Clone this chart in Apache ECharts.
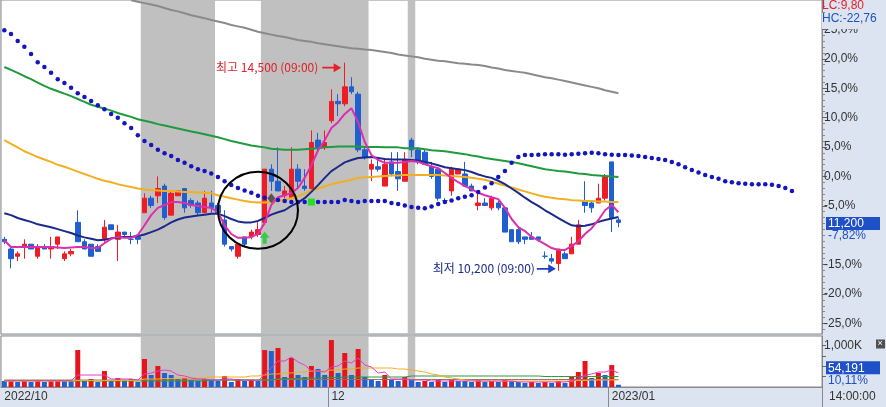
<!DOCTYPE html>
<html><head><meta charset="utf-8">
<script src="https://cdn.jsdelivr.net/npm/echarts@6/dist/echarts.min.js"></script>
<style>html,body{margin:0;padding:0;background:#dbe4f0}#c{width:886px;height:407px}</style>
</head><body><div id="c"></div>
<script>
// ---- data ----
const BASE = 12150; // 0.0% reference price
// [open, close, low, high]
const candles = [
[10850,10800,10750,10900],[10650,10450,10250,10700],[10500,10550,10400,10600],[10700,10750,10450,10850],[10750,10650,10650,10750],
[10500,10700,10450,10750],[10700,10650,10650,10750],[10650,10700,10450,10900],[10750,10900,10650,10900],[10450,10550,10400,10600],
[10550,10600,10500,10650],[11200,10800,10800,11450],[10800,10650,10650,10850],[10750,10500,10500,10750],[10700,10600,10600,10750],
[10850,11100,10800,11250],[11150,11050,11050,11150],[10850,11000,10400,11150],[11000,10950,10900,11000],[10850,10850,10750,11000],
[10900,10850,10750,10900],[11400,11700,11400,11800],[11700,11550,11500,11750],[11750,11900,11600,12150],[11950,11300,11250,12000],
[11350,11800,11350,11850],[11750,11850,11750,11850],[11900,11500,11400,11900],[11650,11550,11500,11700],[11600,11400,11350,11650],
[11400,11700,11400,11850],[11600,11500,11400,11850],[11550,11400,11350,11600],[11250,10750,10700,11450],[10700,10650,10600,10700],
[10500,10750,10450,10750],[10900,10750,10700,10900],[10900,11000,10850,11050],[10950,11050,10900,11200],[11200,12300,11150,12300],
[12300,12050,11850,12400],[12050,11850,11850,12750],[11750,11850,11700,11950],[11700,12300,11700,12750],[12300,12050,11900,12400],
[11950,11900,11850,12300],[11900,12850,11850,13100],[12900,12750,12650,13050],[12750,12850,12700,13100],[13300,13700,13250,13950],
[13700,13650,13400,13850],[13650,14000,13600,14500],[14000,13900,13850,14200],[13850,12700,12650,13900],[12700,12550,12500,12750],
[12300,12400,12050,12500],[12350,12300,12250,12500],[11950,12400,11950,12500],[12450,12200,12150,12650],[12250,12100,11850,12650],
[12050,12500,12050,12650],[12900,12700,12550,12950],[12700,12450,12400,12750],[12650,12400,12400,12700],[12350,12150,12100,12450],
[12300,11700,11650,12300],[11650,11650,11600,11700],[11850,12300,11750,12350],[12200,12300,12200,12300],[12200,11950,11950,12450],
[11950,11850,11850,12000],[11550,11600,11450,11850],[11600,11550,11550,11700],[11500,11700,11450,11750],[11600,11500,11450,11650],
[11500,11000,11000,11500],[11050,10800,10800,11050],[11050,10800,10750,11100],[10900,10850,10750,10900],[10900,10850,10850,11000],
[10900,10850,10800,10900],[10500,10500,10450,10600],[10450,10400,10350,10550],[10350,10650,10200,10650],[10550,10450,10450,10600],
[10550,10750,10550,10900],[10750,11150,10750,11250],[11650,11550,11400,12050],[11600,11500,11400,11650],[11600,11700,11600,12000],
[11700,12150,11650,12200],[12450,11300,11000,12450],[11250,11200,11100,11300]
];
const maGray = [null,null,null,null,null,null,null,null,null,null,null,null,null,null,null,null,null,null,null,
15790,15760,15730,15700,15670,15630,15590,15560,15520,15480,15450,15420,15380,15350,15320,15280,15250,15220,15180,15140,15110,
15080,15050,15030,15000,14970,14950,14930,14900,14880,14860,14840,14820,14800,14790,14770,14760,14740,14720,14700,14670,
14650,14630,14610,14580,14560,14540,14530,14510,14490,14480,14460,14450,14430,14400,14380,14350,14330,14310,14290,14260,
14230,14200,14180,14150,14120,14090,14060,14030,14000,13970,13930,13900,13870];
const maGreen = [14410,14350,14290,14220,14160,14090,14020,13960,13910,13860,13810,13750,13690,13630,13590,13550,13510,13460,13420,13380,
13330,13300,13270,13230,13200,13170,13140,13110,13080,13050,13020,12990,12960,12920,12880,12850,12820,12790,12770,12750,
12720,12710,12700,12700,12700,12710,12720,12730,12750,12760,12770,12770,12770,12770,12760,12760,12760,12750,12750,12750,
12730,12730,12730,12710,12690,12680,12670,12650,12630,12610,12580,12560,12530,12510,12490,12470,12450,12420,12390,12360,
12330,12300,12280,12260,12250,12230,12210,12200,12180,12170,12160,12150,12140];
const maOrange = [12900,12820,12750,12670,12610,12550,12500,12450,12390,12350,12300,12250,12200,12150,12100,12060,12030,11990,11960,11930,
11900,11880,11870,11860,11850,11850,11840,11830,11830,11820,11810,11800,11760,11730,11700,11670,11640,11620,11610,11610,
11620,11640,11670,11700,11740,11800,11860,11900,11940,11990,12020,12050,12080,12120,12130,12140,12150,12160,12170,12170,
12180,12180,12180,12180,12180,12180,12170,12160,12150,12140,12120,12100,12080,12040,12000,11960,11920,11880,11840,11800,
11760,11730,11710,11690,11680,11660,11650,11640,11640,11630,11630,11620,11620];
const maNavy = [11390,11350,11290,11250,11210,11160,11130,11100,11060,11020,10980,10930,10890,10860,10830,10840,10870,10890,10900,10900,
10920,10950,11000,11050,11120,11200,11260,11300,11320,11340,11360,11380,11380,11330,11270,11220,11200,11200,11230,11290,
11360,11410,11450,11540,11610,11700,11830,11970,12120,12260,12350,12440,12490,12530,12540,12550,12530,12510,12500,12500,
12500,12490,12480,12450,12420,12380,12340,12320,12300,12280,12240,12190,12150,12120,12060,11990,11900,11810,11710,11620,
11540,11450,11370,11290,11210,11140,11120,11130,11160,11210,11250,11280,11310];
const maMagenta = [10830,10690,10690,10690,10690,10690,10690,10690,10680,10670,10680,10690,10690,10670,10670,10770,10860,10900,10880,10880,
10940,11140,11350,11500,11560,11620,11620,11600,11560,11540,11520,11500,11410,11140,10960,10880,10880,10900,10960,11190,
11560,11720,11760,11810,11910,12120,12380,12690,12900,13150,13270,13440,13560,13270,12860,12590,12490,12430,12430,12430,
12450,12470,12450,12400,12360,12320,12220,12120,12030,11950,11890,11810,11760,11720,11680,11500,11270,11100,11020,10900,
10830,10750,10670,10630,10630,10710,10810,10960,11080,11250,11450,11560,11410];
// leading span (plotted 26 periods beyond the last candle)
const spanDots = [15170,15090,14950,14830,14680,14510,14410,14290,14160,14080,13980,13870,13790,13710,13620,13540,13440,13360,13250,13150,
13000,12880,12800,12700,12630,12570,12490,12430,12360,12300,12260,12210,12140,12050,11970,11910,11860,11810,11750,11710,
11680,11660,11640,11620,11620,11620,11620,11620,11620,11620,11620,11660,11640,11620,11640,11640,11640,11640,11600,11580,
11550,11520,11500,11490,11530,11580,11620,11650,11700,11730,11760,11830,11920,12010,12140,12260,12430,12550,12590,12590,
12600,12610,12610,12610,12600,12610,12620,12630,12640,12630,12610,12600,12590,12590,12580,12570,12550,12530,12510,12490,
12450,12400,12340,12280,12230,12180,12140,12100,12050,12030,12010,12000,11990,11990,11990,11980,11950,11910,11850];
const volumes = [145000,169000,121000,145000,121000,169000,121000,145000,169000,145000,
145000,895000,145000,194000,121000,387000,145000,218000,169000,194000,
121000,678000,290000,508000,339000,290000,194000,218000,169000,145000,
194000,169000,145000,266000,121000,194000,145000,169000,145000,895000,
871000,944000,242000,702000,290000,242000,508000,436000,290000,1137000,
339000,823000,290000,920000,242000,194000,145000,290000,169000,145000,
242000,169000,121000,145000,121000,194000,121000,169000,145000,145000,
121000,169000,121000,145000,121000,169000,145000,121000,97000,121000,
97000,121000,97000,145000,97000,242000,363000,629000,218000,339000,
290000,532000,54191];
const volMa5 = [157000,157000,157000,157000,157000,157000,157000,157000,157000,157000,
157000,290000,290000,290000,290000,290000,194000,194000,194000,194000,
169000,315000,339000,387000,411000,387000,290000,266000,218000,194000,
194000,169000,169000,194000,194000,169000,169000,169000,145000,315000,
460000,629000,629000,726000,605000,532000,387000,387000,363000,484000,
508000,629000,581000,702000,532000,484000,339000,363000,194000,194000,
194000,169000,169000,169000,145000,145000,145000,145000,145000,145000,
145000,145000,145000,145000,145000,145000,145000,121000,121000,121000,
121000,121000,121000,121000,121000,145000,194000,290000,315000,363000,
363000,411000,339000];
const volMa20 = [145000,145000,145000,145000,145000,145000,145000,145000,145000,145000,
145000,157000,157000,157000,157000,157000,157000,157000,157000,157000,
157000,194000,194000,194000,206000,206000,218000,218000,218000,218000,
218000,242000,242000,242000,242000,242000,242000,266000,266000,290000,
315000,315000,339000,339000,363000,363000,387000,387000,387000,411000,
411000,436000,436000,460000,460000,460000,460000,460000,460000,436000,
436000,411000,387000,363000,315000,290000,242000,218000,194000,169000,
157000,145000,145000,145000,145000,145000,145000,145000,145000,145000,
145000,145000,145000,145000,145000,145000,157000,157000,169000,169000,
169000,169000,169000];
const volMa60 = [145000,145000,145000,145000,145000,145000,145000,145000,145000,145000,
145000,145000,145000,145000,145000,145000,145000,145000,145000,145000,
145000,145000,145000,145000,145000,145000,145000,145000,145000,145000,
145000,169000,169000,169000,169000,169000,169000,169000,169000,169000,
169000,194000,194000,206000,206000,218000,218000,218000,230000,230000,
230000,242000,242000,242000,242000,242000,242000,242000,242000,242000,
242000,266000,266000,266000,266000,266000,266000,266000,266000,266000,
266000,266000,266000,266000,266000,266000,266000,266000,266000,266000,
266000,254000,254000,254000,254000,254000,254000,254000,254000,254000,
254000,254000,254000];
const volMa120 = [169000,169000,169000,169000,169000,169000,169000,169000,169000,169000,
169000,169000,169000,169000,169000,169000,169000,169000,169000,169000,
169000,169000,169000,169000,169000,169000,169000,169000,169000,169000,
169000,169000,169000,169000,169000,169000,169000,169000,169000,169000,
169000,181000,181000,181000,181000,181000,181000,181000,181000,181000,
181000,181000,181000,181000,181000,181000,181000,181000,181000,181000,
181000,181000,181000,181000,181000,181000,181000,181000,181000,181000,
181000,181000,181000,181000,181000,181000,181000,181000,181000,181000,
181000,181000,181000,181000,181000,181000,181000,181000,181000,181000,
181000,181000,181000];
const shadeRanges = [[21,31],[39,54],[61,61]];
const xTickLabels = {0:'2022/10', 49:'12', 91:'2023/01'};
const pctLabelTicks = [-25,-20,-15,-5,0,5,10,15,20,25];
const volLabelTicks = [1000000];
const volRatioText = '10,11%';
const timeText = '14:00:00';
// annotation anchors (category index, price)
const highNote = {idx:51, text:'최고 14,500 (09:00)'};
const lowNote = {idx:83, text:'최저 10,200 (09:00)'};
const circleAt = {idx:38, price:11450};
const signalUpIdx = 39;
const signalDiamond = {idx:40, price:11700};
const signalSquareIdx = 46;

// ---- chart ----
const SLOTS = 123;
const categories = Array.from({length:SLOTS}, (_, i) => String(i));
const Y_MIN = BASE * (1 - 0.268), Y_MAX = BASE * 1.30;
const priceOf = p => BASE * (1 + p / 100);
const comma = v => v.toFixed(2).replace('.', ',');
const fmtPct = v => (Math.round((v / BASE - 1) * 1000) / 10).toFixed(1).replace('.', ',') + '%';
const minorTicks = []; for (let p = -26; p <= 29; p++) minorTicks.push(priceOf(p));
const lastClose = candles[candles.length - 1][1];
const lastVol = volumes[volumes.length - 1];
const minLow = Math.min(...candles.map(c => c[2]));
const maxHigh = Math.max(...candles.map(c => c[3]));
const NUMF = '"Liberation Sans", Arial, sans-serif';
const KRF = '"Noto Sans CJK KR", sans-serif';
const RED = '#ee1c25', BLUE = '#1f5fd0', TAG = '#1f50c8', BG = '#dbe4f0';
const shadeData = categories.map((_, i) => shadeRanges.some(([a, b]) => i >= a && i <= b) ? 1 : '-');
const volData = volumes.map((v, i) => ({value: v, itemStyle: {color: (i > 0 && v > volumes[i - 1]) ? '#e8141c' : '#2060d0'}}));
const arrowPath = 'path://M0,4 L12,4 L12,0 L20,5 L12,10 L12,6 L0,6 Z';
const upArrowPath = 'path://M5,0 L10,6 L7,6 L7,12 L3,12 L3,6 L0,6 Z';

const lineS = (name, data, color, xi, yi, w) => ({
  name, type: 'line', data, xAxisIndex: xi, yAxisIndex: yi, showSymbol: false, silent: true,
  lineStyle: {color, width: w}, itemStyle: {color}, z: 3, connectNulls: false
});
const tagRich = {
  a: {backgroundColor: TAG, color: '#fff', width: 50, padding: [1, 2, 0, 2], fontSize: 12, lineHeight: 13, fontFamily: NUMF},
  b: {color: TAG, fontSize: 12, lineHeight: 12, padding: [0, 2], fontFamily: NUMF}
};

const option = {
  backgroundColor: BG,
  animation: false,
  title: [
    {text: 'LC:' + comma((lastClose / minLow - 1) * 100), left: 822, top: 0, padding: 0,
     textStyle: {color: '#e8202a', fontSize: 12, fontWeight: 'normal', fontFamily: NUMF}},
    {text: 'HC:' + comma((lastClose / maxHigh - 1) * 100), left: 822, top: 13, padding: [0, 12, 4, 0], backgroundColor: BG,
     textStyle: {color: '#2050c0', fontSize: 12, fontWeight: 'normal', fontFamily: NUMF}},
    {text: timeText, left: 829, top: 391, padding: 0,
     textStyle: {color: '#333', fontSize: 12, fontWeight: 'normal', fontFamily: NUMF}}
  ],
  grid: [
    {left: 1, right: 64, top: 0, height: 334, show: true, backgroundColor: '#ffffff', borderColor: '#8a8a8a', borderWidth: 1},
    {left: 1, right: 64, top: 336, height: 51, show: true, backgroundColor: '#ffffff', borderColor: '#8a8a8a', borderWidth: 1}
  ],
  xAxis: [
    {type: 'category', gridIndex: 0, data: categories, axisLine: {show: false}, axisTick: {show: false}, axisLabel: {show: false}},
    {type: 'category', gridIndex: 1, data: categories,
     axisLine: {lineStyle: {color: '#8a8a8a'}},
     axisTick: {show: true, interval: (i) => (i in xTickLabels) && i > 0, length: 20, lineStyle: {color: '#8a8a8a'}},
     axisLabel: {interval: (i) => i in xTickLabels, formatter: (v, i) => xTickLabels[i] || '', align: 'left', margin: 4,
       fontSize: 12, color: '#333', fontFamily: NUMF}},
    {type: 'category', gridIndex: 1, data: categories, show: false}
  ],
  yAxis: [
    {type: 'value', gridIndex: 0, position: 'right', min: Y_MIN, max: Y_MAX, splitLine: {show: false},
     axisLine: {show: true, lineStyle: {color: '#8a8a8a'}},
     axisTick: {show: true, customValues: minorTicks, length: 3, lineStyle: {color: '#8a8a8a'}},
     axisLabel: {customValues: pctLabelTicks.map(priceOf), formatter: fmtPct, margin: 2, fontSize: 12, color: '#333', fontFamily: NUMF}},
    {type: 'value', gridIndex: 0, min: 0, max: 1, show: false},
    {type: 'value', gridIndex: 0, position: 'right', min: Y_MIN, max: Y_MAX, splitLine: {show: false},
     axisLine: {show: false}, axisLabel: {show: false},
     axisTick: {show: true, customValues: pctLabelTicks.map(priceOf), length: 5, lineStyle: {color: '#666'}}},
    {type: 'value', gridIndex: 1, position: 'right', min: 0, max: 1235000, splitLine: {show: false},
     axisLine: {show: true, lineStyle: {color: '#8a8a8a'}},
     axisTick: {show: true, customValues: [250000, 500000, 750000, 1000000], length: 4, lineStyle: {color: '#666'}},
     axisLabel: {customValues: volLabelTicks, formatter: v => (v / 1000).toLocaleString('en-US') + 'K', margin: 2,
       fontSize: 12, color: '#333', fontFamily: NUMF}},
    {type: 'value', gridIndex: 1, min: 0, max: 1, show: false}
  ],
  series: [
    {type: 'bar', xAxisIndex: 0, yAxisIndex: 1, data: shadeData, barWidth: 7.5, silent: true, z: 1,
     itemStyle: {color: '#c0c0c0'}},
    {type: 'bar', xAxisIndex: 2, yAxisIndex: 4, data: shadeData, barWidth: 7.5, silent: true, z: 1,
     itemStyle: {color: '#c0c0c0'}},
    {type: 'candlestick', xAxisIndex: 0, yAxisIndex: 0, data: candles, barWidth: 5, z: 2, silent: true,
     itemStyle: {color: RED, color0: BLUE, borderColor: RED, borderColor0: BLUE, borderWidth: 1},
     markPoint: {silent: true, animation: false, data: [
       {coord: [highNote.idx, candles[highNote.idx][3]], symbol: arrowPath, symbolSize: [19, 9], symbolOffset: [-13, 5],
        itemStyle: {color: '#e8202a'},
        label: {show: true, position: 'left', distance: 4, formatter: highNote.text, color: '#e0202a', fontSize: 12, fontFamily: KRF}},
       {coord: [lowNote.idx, candles[lowNote.idx][2]], symbol: arrowPath, symbolSize: [19, 9], symbolOffset: [-12, -2],
        itemStyle: {color: '#1e3fc8'},
        label: {show: true, position: 'left', distance: 2, formatter: lowNote.text, color: '#1a2a8a', fontSize: 12, fontFamily: KRF}},
       {coord: [circleAt.idx, circleAt.price], symbol: 'circle', symbolSize: [80, 77],
        itemStyle: {color: 'rgba(0,0,0,0)', borderColor: '#000', borderWidth: 2}, label: {show: false}},
       {coord: [signalUpIdx, candles[signalUpIdx][2]], symbol: upArrowPath, symbolSize: [10, 12], symbolOffset: [0, 13],
        itemStyle: {color: '#33cc44'}, label: {show: false}},
       {coord: [signalDiamond.idx, signalDiamond.price], symbol: 'diamond', symbolSize: [8, 10],
        itemStyle: {color: '#555555'}, label: {show: false}},
       {coord: [signalSquareIdx, spanDots[signalSquareIdx]], symbol: 'rect', symbolSize: 7,
        itemStyle: {color: '#22e022'}, label: {show: false}}
     ]},
     markLine: {silent: true, symbol: ['none', 'none'], animation: false,
       lineStyle: {color: 'rgba(0,0,0,0)', width: 1, type: 'solid'},
       data: [{yAxis: lastClose}],
       label: {show: true, position: 'end', distance: 4, offset: [0, 7],
         formatter: () => '{a|' + lastClose.toLocaleString('en-US') + '}\n{b|' + comma((lastClose / BASE - 1) * 100) + '%}',
         rich: tagRich}}
    },
    lineS('gray', maGray, '#8a8a8a', 0, 0, 2),
    lineS('green', maGreen, '#1f9a3c', 0, 0, 2),
    lineS('orange', maOrange, '#f0b020', 0, 0, 2),
    lineS('navy', maNavy, '#1a2a88', 0, 0, 2),
    lineS('magenta', maMagenta, '#dc2eb0', 0, 0, 2),
    {type: 'line', xAxisIndex: 0, yAxisIndex: 0, data: spanDots, silent: true, z: 4,
     lineStyle: {opacity: 0, width: 0}, symbol: 'circle', symbolSize: 4.5, showSymbol: true, showAllSymbol: true,
     itemStyle: {color: '#1414c0'}},
    {type: 'bar', xAxisIndex: 1, yAxisIndex: 3, data: volData, barWidth: 5, z: 2, silent: true,
     markLine: {silent: true, symbol: ['none', 'none'], animation: false,
       lineStyle: {color: 'rgba(0,0,0,0)', width: 1, type: 'solid'},
       data: [{yAxis: lastVol}],
       label: {show: true, position: 'end', distance: 4, offset: [0, -11],
         formatter: () => '{a|' + lastVol.toLocaleString('en-US') + '}\n{b|' + volRatioText + '}',
         rich: tagRich}}},
    lineS('vma120', volMa120, '#9a7060', 1, 3, 1),
    lineS('vma60', volMa60, '#2a9a40', 1, 3, 1),
    lineS('vma20', volMa20, '#f0b020', 1, 3, 1),
    lineS('vma5', volMa5, '#e040c0', 1, 3, 1)
  ],
  graphic: [
    {type: 'line', silent: true, shape: {x1: 822.5, y1: 387, x2: 822.5, y2: 407}, style: {stroke: '#8a8a8a', lineWidth: 1}},
    {type: 'group', left: 876, top: 339, silent: true, children: [
      {type: 'rect', shape: {x: 0, y: 0, width: 9, height: 9}, style: {fill: '#505050'}},
      {type: 'text', x: 1.5, y: -0.5, style: {text: '×', fill: '#fff', fontSize: 9, fontFamily: NUMF}}
    ]}
  ]
};
const chart = echarts.init(document.getElementById('c'), null, {renderer: 'canvas'});
chart.setOption(option);
</script></body></html>
